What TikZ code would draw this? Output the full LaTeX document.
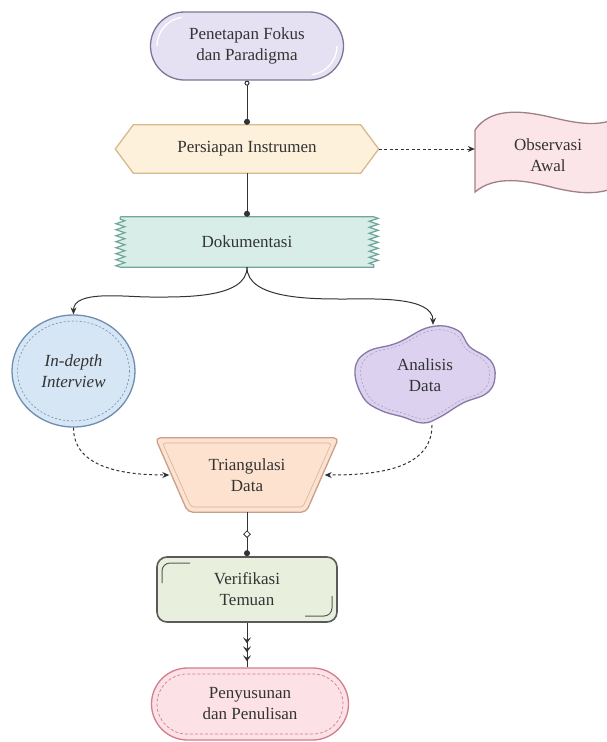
\documentclass[tikz,border=0pt]{standalone}
\usepackage{fontspec}
\setmainfont{Liberation Serif}
\usetikzlibrary{shapes.misc,shapes.geometric,arrows.meta,decorations.pathmorphing,backgrounds}
\definecolor{textc}{HTML}{333333}
\definecolor{linec}{HTML}{333333}
\definecolor{penfill}{HTML}{E6E0F3}\definecolor{pendraw}{HTML}{7D7598}
\definecolor{persfill}{HTML}{FDF1DC}\definecolor{persdraw}{HTML}{D8B98C}
\definecolor{obsfill}{HTML}{FCE5E8}\definecolor{obsdraw}{HTML}{A08088}
\definecolor{dokfill}{HTML}{D8EDE7}\definecolor{dokdraw}{HTML}{6FA89A}
\definecolor{indfill}{HTML}{D6E6F5}\definecolor{inddraw}{HTML}{6E8DB0}
\definecolor{anafill}{HTML}{DCD2EF}\definecolor{anadraw}{HTML}{8878A8}
\definecolor{trifill}{HTML}{FCE2CF}\definecolor{tridraw}{HTML}{C9A08A}
\definecolor{verfill}{HTML}{E9EFDD}\definecolor{verdraw}{HTML}{5A5A5A}
\definecolor{susfill}{HTML}{FCE1E6}\definecolor{susdraw}{HTML}{D27D8E}
\tikzset{arrtip/.tip={Stealth[length=7pt,width=6pt]}}
\begin{document}
\begin{tikzpicture}[x=1pt,y=-1pt,
  txt/.style={font=\fontsize{17}{21}\selectfont, text=textc, align=center, inner sep=0pt},
  conn/.style={draw=linec, line width=1pt},
  dotline/.style={dash pattern=on 3pt off 2.5pt}]
\useasboundingbox (0,0) rectangle (607,742);

% nodes
\node[txt, rounded rectangle, minimum width=193pt, minimum height=68pt, fill=penfill, draw=pendraw, line width=1.3pt] (pen) at (247,46) {Penetapan Fokus\\dan Paradigma};
\node[txt, rectangle, minimum width=263pt, minimum height=48pt] (pers) at (247,149) {Persiapan Instrumen};
\node[txt, rectangle, minimum width=146pt, minimum height=70pt] (obs) at (548,155) {Observasi\\Awal};
\node[txt, rectangle, minimum width=253pt, minimum height=50pt] (dok) at (247,242) {Dokumentasi};
\node[txt, ellipse, minimum width=123pt, minimum height=112pt, fill=indfill, draw=inddraw, line width=1.3pt, font=\fontsize{17}{21}\selectfont\itshape] (ind) at (73.5,371) {In-depth\\Interview};
\node[txt, ellipse, minimum width=144pt, minimum height=100pt] (ana) at (425,375) {Analisis\\Data};
\node[txt, rectangle, minimum width=183pt, minimum height=74pt] (tri) at (247,475) {Triangulasi\\Data};
\node[txt, rectangle, rounded corners=10pt, minimum width=180pt, minimum height=65pt, fill=verfill, draw=verdraw, line width=1.6pt] (ver) at (247,589.5) {Verifikasi\\Temuan};
\node[txt, rounded rectangle, minimum width=197pt, minimum height=72pt, fill=susfill, draw=susdraw, line width=1.3pt] (sus) at (250,704) {Penyusunan\\dan Penulisan};

% decorations drawn over fills but not over text
\draw[white, line width=1.3pt] (157,46) arc[start angle=180, end angle=262, radius=29];
\draw[white, line width=1.3pt] (337,46) arc[start angle=0, end angle=82, radius=29];
\draw[inddraw, line width=0.6pt, dash pattern=on 2pt off 2pt] (ind.center) ellipse [x radius=56, y radius=50];
\draw[verdraw, line width=1pt] (162,583) -- (162,571) arc[start angle=180, end angle=270, radius=8] -- (190,563);
\draw[verdraw, line width=1pt] (332,596) -- (332,608) arc[start angle=0, end angle=90, radius=8] -- (305,616);
\draw[susdraw, line width=0.7pt, dash pattern=on 3pt off 2pt, rounded corners=30pt] (157,674) rectangle (343,734);

\begin{scope}[on background layer]
\fill[white] (0,0) rectangle (607,742);
% Persiapan hexagon
\filldraw[fill=persfill, draw=persdraw, line width=1.3pt] (pers.west) -- ([xshift=18pt]pers.north west) -- ([xshift=-18pt]pers.north east) -- (pers.east) -- ([xshift=-18pt]pers.south east) -- ([xshift=18pt]pers.south west) -- cycle;
% Observasi flag
\filldraw[fill=obsfill, draw=obsdraw, line width=1.3pt] (475,130) .. controls (490,108) and (520,110) .. (550,117) .. controls (580,124) and (600,128) .. (625,115) -- (625,182) .. controls (605,195) and (585,195) .. (555,188) .. controls (525,180) and (495,175) .. (475,192) -- cycle;
% Dokumentasi tape
\filldraw[fill=dokfill, draw=dokdraw, line width=1.2pt, decoration={zigzag, segment length=6pt, amplitude=4.5pt}] (dok.north west) -- (dok.north east) decorate {-- (dok.south east)} -- (dok.south west) decorate {-- (dok.north west)} -- cycle;
% Analisis cloud
\begin{scope}[shift={(425,375)}]
\filldraw[fill=anafill, draw=anadraw, line width=1.3pt] plot[smooth cycle, tension=0.7] coordinates {(-70,-5) (-58,-23) (-28,-32) (5,-48) (32,-45) (45,-28) (65,-15) (70,2) (62,18) (38,28) (15,42) (-2,48) (-22,42) (-45,35) (-62,22)};
\draw[anadraw!70, line width=0.6pt, dash pattern=on 2pt off 2pt, scale=0.92] plot[smooth cycle, tension=0.7] coordinates {(-70,-5) (-58,-23) (-28,-32) (5,-48) (32,-45) (45,-28) (65,-15) (70,2) (62,18) (38,28) (15,42) (-2,48) (-22,42) (-45,35) (-62,22)};
\end{scope}
% Triangulasi trapezoid
\filldraw[fill=trifill, draw=tridraw, line width=1.3pt, rounded corners=5pt] (tri.north west) -- (tri.north east) -- ([xshift=-32.5pt]tri.south east) -- ([xshift=32.5pt]tri.south west) -- cycle;
\draw[tridraw!80, line width=0.6pt, rounded corners=3pt] (162.5,443) -- (331.5,443) -- (303,507) -- (191,507) -- cycle;
\end{scope}

% connectors
\draw[conn, {Circle[open,length=5pt]}-{Circle[length=6pt]}] (pen.south) -- (pers.north);
\draw[conn, dotline, -arrtip] (pers.east) -- (pers.east -| obs.west);
\draw[conn, -{Circle[length=6pt]}] (pers.south) -- (dok.north);
\coordinate (dl) at (150,297);
\coordinate (dr) at (345,299);
\draw[conn, -arrtip] (dok.south) to[out=-90, in=0, looseness=0.8] (dl) to[out=180, in=90, looseness=0.8] (ind.north);
\draw[conn, -arrtip] (dok.south) to[out=-90, in=180, looseness=0.8] (dr) to[out=0, in=90, looseness=0.8] ([xshift=8pt]ana.north);
\draw[conn, dotline, -arrtip] (ind.south) to[out=-90, in=180] ([xshift=14pt]tri.west);
\draw[conn, dotline, -arrtip] ([xshift=7pt]ana.south) to[out=-90, in=0] ([xshift=-14pt]tri.east);
\draw[conn, -{Circle[length=6pt]}] (tri.south) -- node[diamond, draw=linec, fill=white, line width=0.8pt, inner sep=0pt, minimum size=7pt] (dmd) {} (ver.north);
\draw[conn, -{Stealth[length=6pt,width=8pt,inset=2.5pt,sep=3pt] Stealth[length=6pt,width=8pt,inset=2.5pt,sep=3pt] Stealth[length=6pt,width=8pt,inset=2.5pt]}, shorten >=6pt] (ver.south) -- (ver.south |- sus.north);
\draw[conn] (ver.south |- sus.north) -- ++(0,-8);
\end{tikzpicture}
\end{document}
